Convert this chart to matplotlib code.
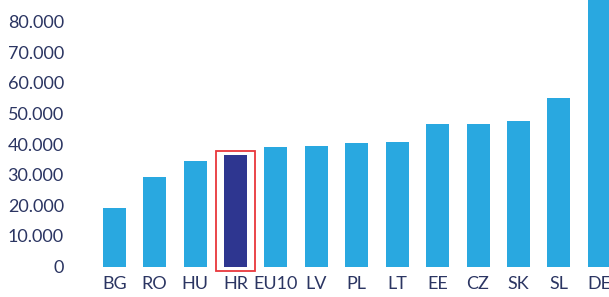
import matplotlib.pyplot as plt
from matplotlib.patches import Rectangle

# Data
countries = ['BG', 'RO', 'HU', 'HR', 'EU10', 'LV', 'PL', 'LT', 'EE', 'CZ', 'SK', 'SL', 'DE']
values = [19000, 29100, 34600, 36300, 39200, 39500, 40500, 40800, 46700, 46700, 47700, 55200, 95000]
highlight = 'HR'
yticks = [0, 10000, 20000, 30000, 40000, 50000, 60000, 70000, 80000]

light = '#29A8E0'
dark = '#2E3690'
text_col = '#2B3562'

plt.rcParams['font.family'] = ['Lato', 'DejaVu Sans']

fig = plt.figure(figsize=(6.09, 2.97), dpi=100)
ax = fig.add_axes([75 / 609, 1 - 266.5 / 297, 1 - 75 / 609, 266.5 / 297])

colors = [dark if c == highlight else light for c in countries]
x = list(range(len(countries)))
ax.bar(x, values, width=0.57, color=colors)

# red frame around highlighted bar
hi = countries.index(highlight)
ax.add_patch(Rectangle((hi - 0.49, -1370), 0.975, values[hi] + 2850,
                       fill=False, edgecolor='#E8373C', lw=1.3, clip_on=False))

ax.set_xlim(-0.97, 12.24)
ax.set_ylim(0, 87100)
ax.set_xticks(x)
ax.set_xticklabels(countries)
ax.set_yticks(yticks)
ax.set_yticklabels(['0'] + [f'{v // 1000}.000' for v in yticks[1:]])
ax.tick_params(length=0, labelsize=13, labelcolor=text_col)
ax.tick_params(axis='y', pad=8)
ax.tick_params(axis='x', pad=7)
for s in ax.spines.values():
    s.set_visible(False)

fig.savefig('out.png', dpi=100)
